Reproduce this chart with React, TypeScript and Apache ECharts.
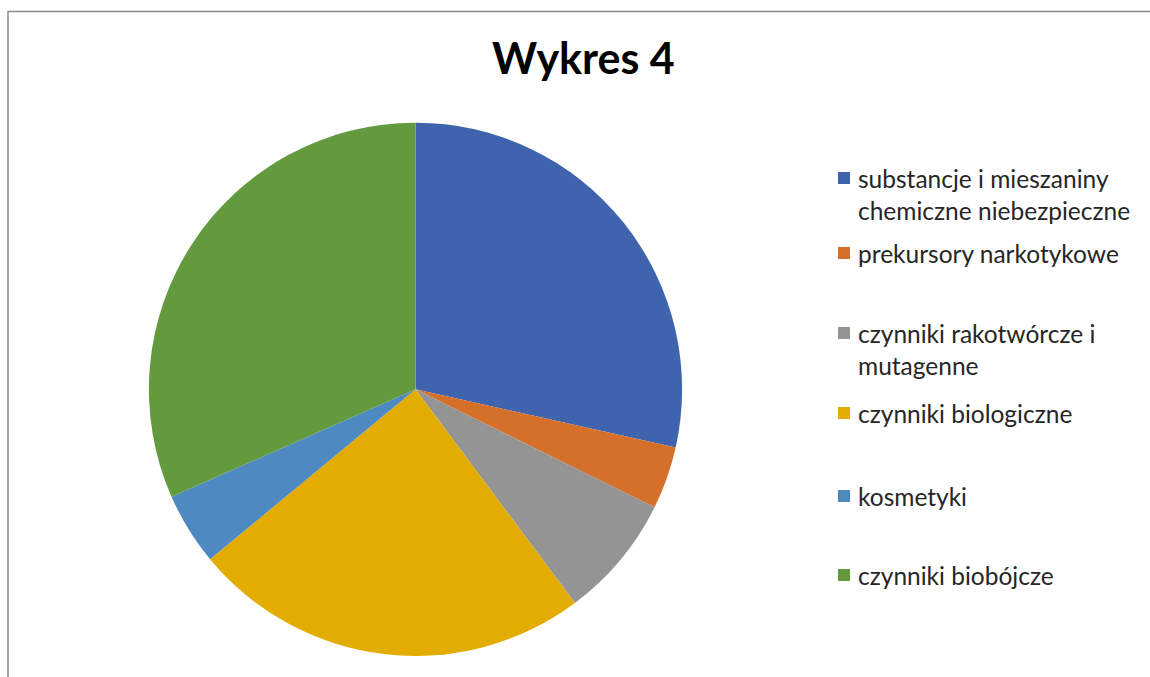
import React, { useEffect, useRef } from "react";
import * as echarts from "echarts";

const titleText = "Wykres 4";
const categories = [
  "substancje i mieszaniny chemiczne niebezpieczne",
  "prekursory narkotykowe",
  "czynniki rakotwórcze i mutagenne",
  "czynniki biologiczne",
  "kosmetyki",
  "czynniki biobójcze",
];
const legendLines = [
  ["substancje i mieszaniny", "chemiczne niebezpieczne"],
  ["prekursory narkotykowe"],
  ["czynniki rakotwórcze i", "mutagenne"],
  ["czynniki biologiczne"],
  ["kosmetyki"],
  ["czynniki biobójcze"],
];
const values = [28.5, 3.8, 7.5, 24.2, 4.4, 31.6];
const colors = ["#3F64AD", "#D5702B", "#949494", "#E3AC00", "#4F89C1", "#639A3D"];
const legendCenters = [178, 253, 333, 413, 496, 575];

export default function App() {
  const ref = useRef<HTMLDivElement>(null);
  useEffect(() => {
    if (!ref.current) return;
    const chart = echarts.init(ref.current, null, { renderer: "svg" });
    const lh = 32;
    const legends = categories.map((name, i) => {
      const lines = legendLines[i];
      const multi = lines.length > 1;
      const top = multi ? legendCenters[i] - 1.5 * lh : legendCenters[i] - lh / 2;
      return {
        data: [name],
        orient: "vertical",
        left: 838,
        top,
        padding: 0,
        itemWidth: 12,
        itemHeight: 12,
        icon: "rect",
        selectedMode: false,
        formatter: () => (multi ? "\u00a0\n" + lines.join("\n") : lines[0]),
        textStyle: {
          fontFamily: "Lato",
          fontSize: 24.5,
          color: "#262626",
          lineHeight: lh,
          padding: [0, 0, 0, 3],
        },
      };
    });
    chart.setOption({
      animation: false,
      color: colors,
      title: {
        text: titleText,
        left: 492,
        top: 36,
        padding: 0,
        textStyle: {
          fontFamily: "Lato",
          fontWeight: "bold",
          fontSize: 43,
          color: "#000000",
        },
      },
      legend: legends,
      graphic: [
        {
          type: "rect",
          shape: { x: 8, y: 11.5, width: 1300, height: 800 },
          style: { fill: "none", stroke: "#8a8a8a", lineWidth: 1.5 },
          silent: true,
        },
      ],
      series: [
        {
          type: "pie",
          center: [415.5, 389.3],
          radius: 266.6,
          startAngle: 90,
          clockwise: true,
          label: { show: false },
          labelLine: { show: false },
          emphasis: { disabled: true },
          itemStyle: { borderWidth: 0 },
          data: categories.map((name, i) => ({ name, value: values[i] })),
        },
      ],
    });
    return () => chart.dispose();
  }, []);
  return (
    <div
      ref={ref}
      style={{ position: "fixed", left: 0, top: 0, width: 1150, height: 677, background: "#fff" }}
    />
  );
}
